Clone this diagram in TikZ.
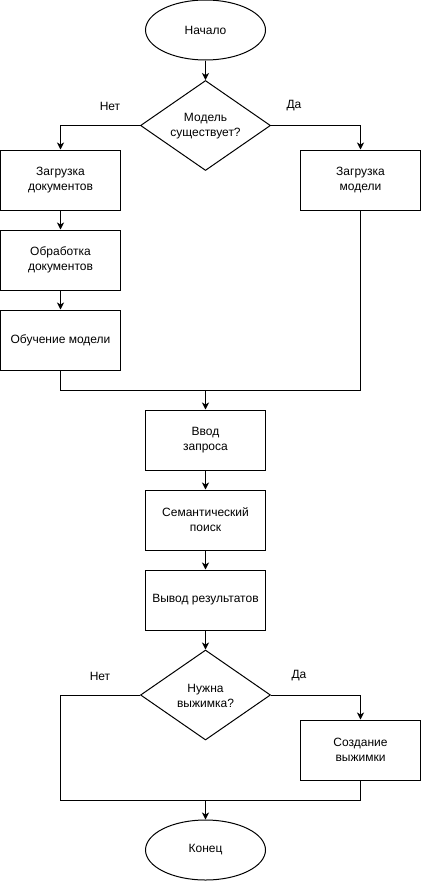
\documentclass[tikz,border=0pt]{standalone}
\usepackage{fontspec}
\setmainfont{Liberation Sans}
\usetikzlibrary{shapes.geometric,arrows.meta}
\begin{document}
\begin{tikzpicture}[x=1pt,y=-1pt,
  every node/.style={font=\fontsize{12}{15}\selectfont, align=center},
  proc/.style={draw, line width=1pt, minimum width=120pt, minimum height=60pt, inner sep=0pt},
  term/.style={draw, ellipse, line width=1pt, minimum width=120pt, minimum height=60pt, inner sep=0pt},
  dec/.style={draw, diamond, line width=1pt, minimum width=130pt, minimum height=90pt, inner sep=0pt},
  conn/.style={line width=1pt},
  arr/.style={line width=1pt, -{Stealth[length=7pt,width=7pt,inset=2pt]}}]
\useasboundingbox (0,0) rectangle (421,881);
\node[term] (start) at (205.5,30) {Начало};
\node[dec] (d1) at (205.5,125.5) {};
\node (d1t) at (205.5,126.5) {Модель\\существует?};
\node[proc] (b1) at (60.5,180) {Загрузка\\документов};
\node[proc] (b2) at (360.5,180) {Загрузка\\модели};
\node[proc] (b3) at (60.5,260) {Обработка\\документов};
\node[proc] (b4) at (60.5,340) {Обучение модели};
\node[proc] (b5) at (205.5,440) {Ввод\\запроса};
\node[proc] (b6) at (205.5,520) {Семантический\\поиск};
\node[proc] (b7) at (205.5,600) {Вывод результатов};
\node[dec] (d2) at (205.5,695) {};
\node (d2t) at (205.5,696) {Нужна\\выжимка?};
\node[proc] (b8) at (360.5,750) {Создание\\выжимки};
\node[term] (end) at (205.5,850) {Конец};
\node (l1) at (110,106) {Нет};
\node (l2) at (294,106) {Да};
\node (l3) at (100,676) {Нет};
\node (l4) at (299,676) {Да};
\coordinate (j1) at (205.5,390);
\coordinate (j2) at (205.5,800);
\coordinate (c2) at (60.5,800);
\draw[arr] (start.south) -- (d1.north);
\draw[arr] (d1.west) -| (b1.north);
\draw[arr] (d1.east) -| (b2.north);
\draw[arr] (b1.south) -- (b3.north);
\draw[arr] (b3.south) -- (b4.north);
\draw[conn] (b4.south) |- (j1);
\draw[conn] (b2.south) |- (j1);
\draw[arr] (j1) -- (b5.north);
\draw[arr] (b5.south) -- (b6.north);
\draw[arr] (b6.south) -- (b7.north);
\draw[arr] (b7.south) -- (d2.north);
\draw[conn] (d2.west) -| (c2) -- (j2);
\draw[arr] (d2.east) -| (b8.north);
\draw[conn] (b8.south) |- (j2);
\draw[arr] (j2) -- (end.north);
\end{tikzpicture}
\end{document}
